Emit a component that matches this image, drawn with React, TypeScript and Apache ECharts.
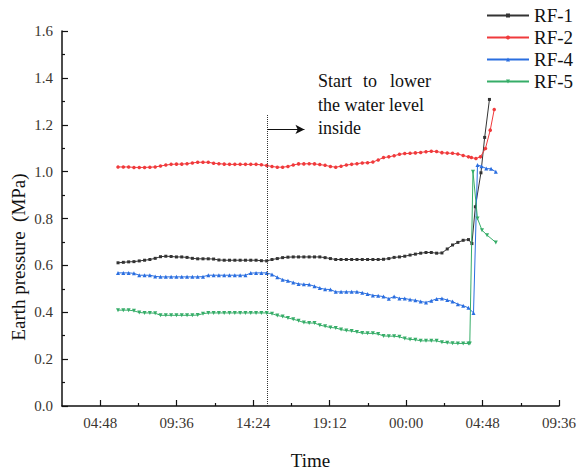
import React, { useEffect, useRef } from 'react';
import * as echarts from 'echarts';

// Shared sampling times (every 20 min, day 1 05:55 → day 2 03:55)
const gridTimes = ['05:55','06:15','06:35','06:55','07:15','07:35','07:55','08:15','08:35','08:55',
  '09:15','09:35','09:55','10:15','10:35','10:55','11:15','11:35','11:55','12:15',
  '12:35','12:55','13:15','13:35','13:55','14:15','14:35','14:55','15:15','15:35',
  '15:55','16:15','16:35','16:55','17:15','17:35','17:55','18:15','18:35','18:55',
  '19:15','19:35','19:55','20:15','20:35','20:55','21:15','21:35','21:55','22:15',
  '22:35','22:55','23:15','23:35','23:55','00:15','00:35','00:55','01:15','01:35',
  '01:55','02:15','02:35','02:55','03:15','03:35','03:55'];

const rf1 = [0.611,0.613,0.615,0.616,0.619,0.622,0.625,0.630,0.637,0.639,
  0.638,0.636,0.636,0.634,0.630,0.628,0.628,0.628,0.627,0.623,
  0.622,0.622,0.622,0.622,0.622,0.622,0.622,0.620,0.619,0.625,
  0.629,0.633,0.635,0.636,0.636,0.636,0.636,0.636,0.636,0.633,
  0.629,0.625,0.625,0.625,0.625,0.625,0.625,0.625,0.625,0.625,
  0.626,0.629,0.634,0.636,0.639,0.644,0.648,0.652,0.655,0.655,
  0.652,0.653,0.670,0.687,0.698,0.707,0.710];
const rf2 = [1.020,1.020,1.020,1.018,1.018,1.018,1.019,1.020,1.024,1.028,
  1.031,1.032,1.032,1.034,1.037,1.040,1.040,1.040,1.036,1.034,
  1.032,1.031,1.031,1.031,1.031,1.031,1.031,1.029,1.026,1.022,
  1.019,1.019,1.022,1.028,1.033,1.033,1.034,1.033,1.030,1.027,
  1.022,1.019,1.023,1.028,1.031,1.034,1.037,1.038,1.041,1.050,
  1.060,1.063,1.068,1.074,1.077,1.078,1.080,1.082,1.085,1.087,
  1.086,1.081,1.079,1.078,1.075,1.069,1.063];
const rf4 = [0.568,0.568,0.568,0.566,0.558,0.558,0.558,0.553,0.551,0.551,
  0.551,0.551,0.551,0.551,0.551,0.551,0.552,0.558,0.558,0.558,
  0.558,0.558,0.558,0.558,0.558,0.567,0.568,0.568,0.568,0.561,
  0.549,0.539,0.534,0.527,0.521,0.519,0.518,0.511,0.503,0.498,
  0.497,0.487,0.487,0.487,0.487,0.487,0.483,0.478,0.472,0.470,
  0.467,0.458,0.467,0.459,0.459,0.454,0.451,0.446,0.442,0.449,
  0.457,0.459,0.452,0.446,0.434,0.428,0.419];
const rf5 = [0.409,0.409,0.409,0.406,0.399,0.397,0.397,0.396,0.387,0.387,
  0.387,0.387,0.387,0.387,0.387,0.388,0.394,0.397,0.397,0.397,
  0.397,0.397,0.397,0.397,0.397,0.397,0.397,0.397,0.397,0.394,
  0.386,0.382,0.376,0.370,0.364,0.356,0.354,0.354,0.345,0.340,
  0.335,0.333,0.326,0.322,0.320,0.316,0.311,0.310,0.310,0.307,
  0.299,0.298,0.298,0.295,0.288,0.284,0.283,0.278,0.278,0.278,
  0.278,0.272,0.270,0.268,0.267,0.267,0.267];

// Readings after the water level was lowered (day 2)
const rf1TailTimes = ['04:08','04:21','04:42','04:56','05:14'];
const rf1Tail = [0.693,0.850,0.995,1.146,1.308];
const rf2TailTimes = ['04:06','04:23','04:40','04:59','05:17','05:32'];
const rf2Tail = [1.060,1.056,1.063,1.099,1.177,1.265];
const rf4TailTimes = ['04:14','04:29','04:44','05:02','05:20','05:38'];
const rf4Tail = [0.397,1.028,1.023,1.013,1.012,0.999];
const rf5TailTimes = ['04:00','04:12','04:29','04:46','05:05','05:38'];
const rf5Tail = [0.267,1.000,0.800,0.750,0.729,0.698];

const seriesNames = ['RF-1','RF-2','RF-4','RF-5'];
const seriesColors = ['#333333','#f03a3c','#2a6ee0','#36ad68'];

const majorTicks = [4.8, 9.6, 14.4, 19.2, 24, 28.8, 33.6];
const minorTicks = [7.2, 12, 16.8, 21.6, 26.4, 31.2];

// annotation: start of lowering the water level (hours)
const lowerStartHour = 15.31;
const lowerLineTop = 1.245;
const arrowLevel = 1.18;
const arrowEndHour = 17.62;

const FONT = '"Liberation Serif", "Times New Roman", serif';

function parseSeq(times: string[]): number[] {
  let off = 0;
  let prev = -1;
  return times.map((t) => {
    const [a, b] = t.split(':').map(Number);
    let h = a + b / 60 + off;
    if (h < prev) { off += 24; h += 24; }
    prev = h;
    return h;
  });
}

function makeData(vals: number[], tailTimes: string[], tail: number[]) {
  const hs = parseSeq([...gridTimes, ...tailTimes]);
  const vs = [...vals, ...tail];
  return hs.map((h, i) => [h, vs[i]]);
}

function fmtTime(v: number) {
  const h = ((v % 24) + 24) % 24;
  let hh = Math.floor(h + 1e-6);
  let mm = Math.round((h - hh) * 60);
  if (mm >= 60) { mm -= 60; hh += 1; }
  return String(hh).padStart(2, '0') + ':' + String(mm).padStart(2, '0');
}

export default function App() {
  const ref = useRef<HTMLDivElement>(null);
  useEffect(() => {
    if (!ref.current) return;
    const chart = echarts.init(ref.current, undefined, { renderer: 'svg' });
    const datas = [
      makeData(rf1, rf1TailTimes, rf1Tail),
      makeData(rf2, rf2TailTimes, rf2Tail),
      makeData(rf4, rf4TailTimes, rf4Tail),
      makeData(rf5, rf5TailTimes, rf5Tail),
    ];
    const symbols = ['rect', 'circle', 'triangle', 'triangle'];
    const rotates = [0, 0, 0, 180];
    const sizes = [3, 3.5, 4, 4];
    const series: any[] = datas.map((d, i) => ({
      type: 'line',
      name: seriesNames[i],
      data: d,
      xAxisIndex: 0,
      yAxisIndex: 0,
      symbol: symbols[i],
      symbolRotate: rotates[i],
      symbolSize: sizes[i],
      showSymbol: true,
      color: seriesColors[i],
      lineStyle: { width: 1, color: seriesColors[i] },
      itemStyle: { color: seriesColors[i] },
      emphasis: { disabled: true },
      z: 2 + i,
    }));
    series[0].markLine = {
      silent: true,
      symbol: ['none', 'none'],
      label: { show: false },
      lineStyle: { type: 'dotted', color: '#333', width: 1 },
      data: [[{ coord: [lowerStartHour, 0] }, { coord: [lowerStartHour, lowerLineTop] }]],
    };
    series[1].markLine = {
      silent: true,
      symbol: ['none', 'arrow'],
      symbolSize: [7, 9],
      label: { show: false },
      lineStyle: { type: 'solid', color: '#111', width: 1 },
      data: [[{ coord: [lowerStartHour, arrowLevel] }, { coord: [arrowEndHour, arrowLevel] }]],
    };

    const gridBox = { left: 62, right: 18, top: 31, bottom: 65, containLabel: false, outerBoundsMode: 'none' };
    const option: any = {
      animation: false,
      textStyle: { fontFamily: FONT },
      grid: [gridBox, { ...gridBox }],
      legend: {
        data: seriesNames,
        orient: 'vertical',
        left: 481,
        top: 1,
        itemWidth: 42,
        itemHeight: 5,
        itemGap: 3,
        textStyle: { fontFamily: FONT, fontSize: 19, color: '#111' },
      },
      xAxis: [
        {
          type: 'value',
          gridIndex: 0,
          min: 2.4,
          max: 33.6,
          name: 'Time',
          nameLocation: 'middle',
          nameGap: 45,
          nameTextStyle: { fontFamily: FONT, fontSize: 19, color: '#111' },
          axisLine: { show: true, onZero: false, lineStyle: { color: '#111', width: 1.5 } },
          axisTick: { show: true, inside: true, length: 6, customValues: majorTicks, lineStyle: { color: '#111', width: 1.2 } },
          axisLabel: {
            customValues: majorTicks,
            formatter: (v: number) => fmtTime(v),
            fontFamily: FONT,
            fontSize: 15,
            color: '#3a3530',
            margin: 9,
          },
          splitLine: { show: false },
        },
        {
          type: 'value',
          gridIndex: 1,
          min: 2.4,
          max: 33.6,
          position: 'bottom',
          axisLine: { show: false, onZero: false },
          axisTick: { show: true, inside: true, length: 3, customValues: minorTicks, lineStyle: { color: '#111', width: 1.2 } },
          axisLabel: { show: false },
          splitLine: { show: false },
        },
      ],
      yAxis: [
        {
          type: 'value',
          gridIndex: 0,
          min: 0,
          max: 1.6,
          interval: 0.2,
          axisLine: { show: true, lineStyle: { color: '#111', width: 1.5 } },
          axisTick: { show: true, inside: true, length: 6, lineStyle: { color: '#111', width: 1.2 } },
          minorTick: { show: true, splitNumber: 2, length: 3, lineStyle: { color: '#111', width: 1.2 } },
          axisLabel: {
            formatter: (v: number) => v.toFixed(1),
            fontFamily: FONT,
            fontSize: 15,
            color: '#3a3530',
            margin: 9,
          },
          splitLine: { show: false },
        },
        {
          type: 'value',
          gridIndex: 1,
          min: 0,
          max: 1.6,
          show: false,
        },
      ],
      series,
      graphic: [
        { type: 'text', x: 18, y: 257, rotation: Math.PI / 2, style: { text: 'Earth pressure  (MPa)', font: '19px ' + FONT, fill: '#111', align: 'center', verticalAlign: 'middle' } },
        { type: 'text', x: 318, y: 81, style: { text: 'Start', font: '18px ' + FONT, fill: '#111', align: 'left', verticalAlign: 'middle' } },
        { type: 'text', x: 370, y: 81, style: { text: 'to', font: '18px ' + FONT, fill: '#111', align: 'center', verticalAlign: 'middle' } },
        { type: 'text', x: 431, y: 81, style: { text: 'lower', font: '18px ' + FONT, fill: '#111', align: 'right', verticalAlign: 'middle' } },
        { type: 'text', x: 318, y: 105, style: { text: 'the water level', font: '18px ' + FONT, fill: '#111', align: 'left', verticalAlign: 'middle' } },
        { type: 'text', x: 318, y: 128, style: { text: 'inside', font: '18px ' + FONT, fill: '#111', align: 'left', verticalAlign: 'middle' } },
      ],
    };
    chart.setOption(option);
    return () => chart.dispose();
  }, []);
  return <div ref={ref} style={{ position: 'fixed', left: 0, top: 0, width: 577, height: 471, background: '#fff' }} />;
}
